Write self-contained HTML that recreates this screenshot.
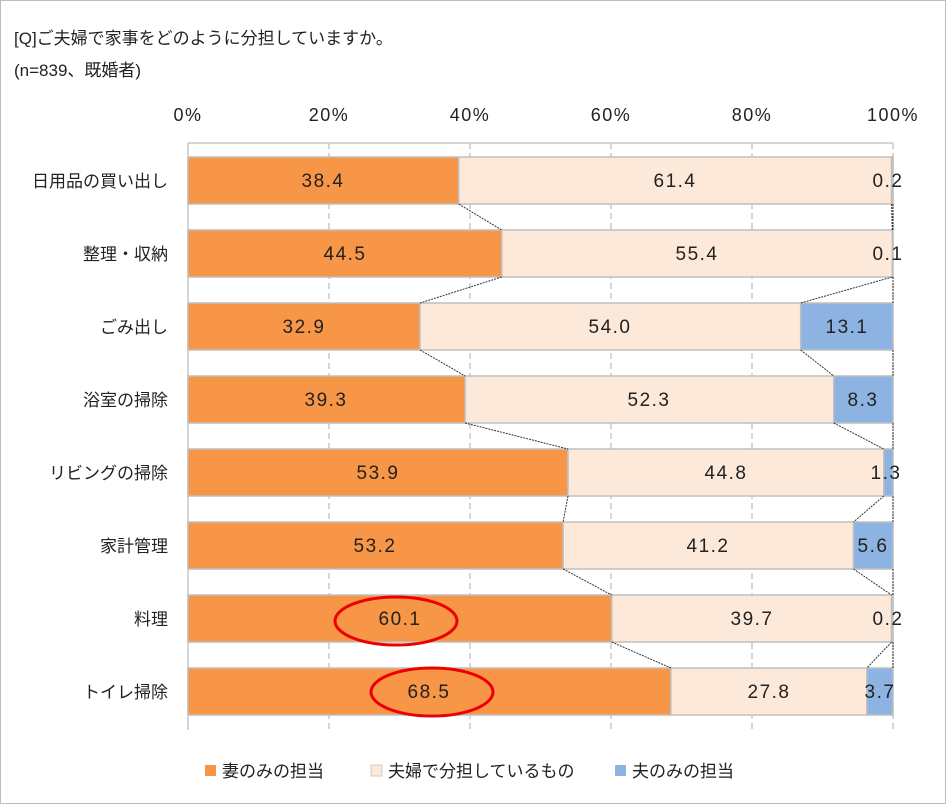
<!DOCTYPE html><html><head><meta charset="utf-8"><style>body{margin:0;background:#fff}svg{display:block}text{font-family:"Liberation Sans","Noto Sans CJK JP",sans-serif}</style></head><body>
<svg width="947" height="805" xmlns="http://www.w3.org/2000/svg">
<rect x="0.5" y="0.5" width="945" height="803" fill="#fff" stroke="#bdbdbd"/>
<text x="14" y="44" font-size="17" fill="#222">[Q]ご夫婦で家事をどのように分担していますか。</text>
<text x="14" y="76" font-size="17" fill="#222">(n=839、既婚者)</text>
<g font-size="18" fill="#222" text-anchor="middle" letter-spacing="1.5">
<text x="188" y="121">0%</text><text x="329" y="121">20%</text><text x="470" y="121">40%</text><text x="611" y="121">60%</text><text x="752" y="121">80%</text><text x="893" y="121">100%</text></g>
<g stroke="#c8c8c8" stroke-width="1.5">
<line x1="188" y1="143" x2="188" y2="730"/>
<line x1="188" y1="143" x2="893" y2="143"/>
<g stroke-dasharray="6,4"><line x1="329" y1="143" x2="329" y2="730"/><line x1="470" y1="143" x2="470" y2="730"/><line x1="611" y1="143" x2="611" y2="730"/><line x1="752" y1="143" x2="752" y2="730"/><line x1="893" y1="143" x2="893" y2="730"/></g>
</g>
<g stroke="#bfbfbf" stroke-width="1.5">
<rect x="188" y="157" width="270.7" height="47" fill="#f79646"/><rect x="458.7" y="157" width="432.9" height="47" fill="#fde9d9"/><rect x="891.6" y="157" width="1.4" height="47" fill="#8db3e2"/>
<rect x="188" y="230" width="313.7" height="47" fill="#f79646"/><rect x="501.7" y="230" width="390.6" height="47" fill="#fde9d9"/><rect x="892.3" y="230" width="0.7" height="47" fill="#8db3e2"/>
<rect x="188" y="303" width="232" height="47" fill="#f79646"/><rect x="420" y="303" width="380.7" height="47" fill="#fde9d9"/><rect x="800.7" y="303" width="92.3" height="47" fill="#8db3e2"/>
<rect x="188" y="376" width="277.1" height="47" fill="#f79646"/><rect x="465.1" y="376" width="368.7" height="47" fill="#fde9d9"/><rect x="833.8" y="376" width="59.2" height="47" fill="#8db3e2"/>
<rect x="188" y="449" width="380" height="47" fill="#f79646"/><rect x="568" y="449" width="315.8" height="47" fill="#fde9d9"/><rect x="883.8" y="449" width="9.2" height="47" fill="#8db3e2"/>
<rect x="188" y="522" width="375.1" height="47" fill="#f79646"/><rect x="563.1" y="522" width="290.4" height="47" fill="#fde9d9"/><rect x="853.5" y="522" width="39.5" height="47" fill="#8db3e2"/>
<rect x="188" y="595" width="423.7" height="47" fill="#f79646"/><rect x="611.7" y="595" width="279.9" height="47" fill="#fde9d9"/><rect x="891.6" y="595" width="1.4" height="47" fill="#8db3e2"/>
<rect x="188" y="668" width="482.9" height="47" fill="#f79646"/><rect x="670.9" y="668" width="196" height="47" fill="#fde9d9"/><rect x="866.9" y="668" width="26.1" height="47" fill="#8db3e2"/>
</g>
<g stroke="#333" stroke-dasharray="2,1" stroke-width="1">
<line x1="458.7" y1="204" x2="501.7" y2="230"/><line x1="891.6" y1="204" x2="892.3" y2="230"/><line x1="893" y1="204" x2="893" y2="230"/>
<line x1="501.7" y1="277" x2="420" y2="303"/><line x1="892.3" y1="277" x2="800.7" y2="303"/><line x1="893" y1="277" x2="893" y2="303"/>
<line x1="420" y1="350" x2="465.1" y2="376"/><line x1="800.7" y1="350" x2="833.8" y2="376"/><line x1="893" y1="350" x2="893" y2="376"/>
<line x1="465.1" y1="423" x2="568" y2="449"/><line x1="833.8" y1="423" x2="883.8" y2="449"/><line x1="893" y1="423" x2="893" y2="449"/>
<line x1="568" y1="496" x2="563.1" y2="522"/><line x1="883.8" y1="496" x2="853.5" y2="522"/><line x1="893" y1="496" x2="893" y2="522"/>
<line x1="563.1" y1="569" x2="611.7" y2="595"/><line x1="853.5" y1="569" x2="891.6" y2="595"/><line x1="893" y1="569" x2="893" y2="595"/>
<line x1="611.7" y1="642" x2="670.9" y2="668"/><line x1="891.6" y1="642" x2="866.9" y2="668"/><line x1="893" y1="642" x2="893" y2="668"/>
</g>
<g font-size="19" fill="#222" text-anchor="middle" letter-spacing="1.5">
<text x="323" y="187">38.4</text><text x="675" y="187">61.4</text><text x="888" y="187">0.2</text>
<text x="345" y="260">44.5</text><text x="697" y="260">55.4</text><text x="888" y="260">0.1</text>
<text x="304" y="333">32.9</text><text x="610" y="333">54.0</text><text x="847" y="333">13.1</text>
<text x="326" y="406">39.3</text><text x="649" y="406">52.3</text><text x="863" y="406">8.3</text>
<text x="378" y="479">53.9</text><text x="726" y="479">44.8</text><text x="886" y="479">1.3</text>
<text x="375" y="552">53.2</text><text x="708" y="552">41.2</text><text x="873" y="552">5.6</text>
<text x="400" y="625">60.1</text><text x="752" y="625">39.7</text><text x="888" y="625">0.2</text>
<text x="429" y="698">68.5</text><text x="769" y="698">27.8</text><text x="880" y="698">3.7</text>
</g>
<ellipse cx="396" cy="621" rx="61" ry="24" fill="none" stroke="#e00" stroke-width="3"/>
<ellipse cx="432" cy="692" rx="61" ry="24" fill="none" stroke="#e00" stroke-width="3"/>
<g font-size="17" fill="#222" text-anchor="end">
<text x="168" y="187">日用品の買い出し</text><text x="168" y="260">整理・収納</text><text x="168" y="333">ごみ出し</text><text x="168" y="406">浴室の掃除</text><text x="168" y="479">リビングの掃除</text><text x="168" y="552">家計管理</text><text x="168" y="625">料理</text><text x="168" y="698">トイレ掃除</text></g>
<g font-size="17" fill="#222">
<rect x="205" y="765" width="11" height="11" fill="#f79646"/><text x="222" y="777">妻のみの担当</text>
<rect x="371" y="765" width="11" height="11" fill="#fde9d9" stroke="#ccc"/><text x="388" y="777">夫婦で分担しているもの</text>
<rect x="615" y="765" width="11" height="11" fill="#8db3e2"/><text x="632" y="777">夫のみの担当</text></g>
</svg></body></html>
